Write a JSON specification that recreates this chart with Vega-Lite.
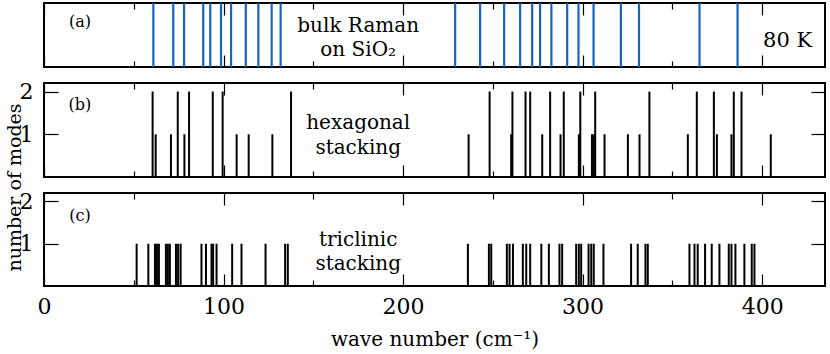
{
  "$schema": "https://vega.github.io/schema/vega-lite/v6.json",
  "background": "white",
  "padding": {"left": 3, "top": 0, "right": 0, "bottom": 0},
  "spacing": 16,
  "bounds": "flush",
  "datasets": {
    "raman": [{"wn":60.9},{"wn":72.0},{"wn":78.0},{"wn":88.7},{"wn":92.6},{"wn":98.6},{"wn":104.2},{"wn":112.4},{"wn":119.4},{"wn":126.8},{"wn":131.8},{"wn":229.0},{"wn":242.9},{"wn":256.3},{"wn":265.2},{"wn":271.9},{"wn":276.3},{"wn":282.6},{"wn":291.4},{"wn":297.7},{"wn":306.1},{"wn":321.3},{"wn":331.4},{"wn":365.1},{"wn":386.3}],
    "hex": [{"wn":60.5,"n":2},{"wn":62.2,"n":1},{"wn":70.7,"n":1},{"wn":74.5,"n":2},{"wn":78.2,"n":1},{"wn":80.8,"n":2},{"wn":94.0,"n":2},{"wn":99.5,"n":2},{"wn":107.3,"n":1},{"wn":114.0,"n":1},{"wn":127.2,"n":1},{"wn":137.6,"n":2},{"wn":236.5,"n":1},{"wn":248.2,"n":2},{"wn":260.2,"n":1},{"wn":260.9,"n":2},{"wn":268.2,"n":2},{"wn":270.8,"n":2},{"wn":277.5,"n":1},{"wn":281.9,"n":2},{"wn":287.7,"n":1},{"wn":289.5,"n":2},{"wn":297.9,"n":1},{"wn":298.7,"n":2},{"wn":305.2,"n":1},{"wn":306.2,"n":1},{"wn":307.0,"n":2},{"wn":312.2,"n":1},{"wn":325.2,"n":1},{"wn":331.7,"n":1},{"wn":337.2,"n":2},{"wn":358.6,"n":1},{"wn":363.6,"n":2},{"wn":373.1,"n":2},{"wn":374.8,"n":1},{"wn":382.9,"n":1},{"wn":384.2,"n":2},{"wn":388.5,"n":2},{"wn":404.8,"n":1}],
    "tri": [{"wn":51.6,"n":1},{"wn":58.1,"n":1},{"wn":61.8,"n":1},{"wn":62.9,"n":1},{"wn":64.0,"n":1},{"wn":67.9,"n":1},{"wn":69.0,"n":1},{"wn":70.1,"n":1},{"wn":73.5,"n":1},{"wn":74.7,"n":1},{"wn":76.1,"n":1},{"wn":87.7,"n":1},{"wn":90.2,"n":1},{"wn":93.3,"n":1},{"wn":94.2,"n":1},{"wn":96.1,"n":1},{"wn":104.8,"n":1},{"wn":110.0,"n":1},{"wn":123.4,"n":1},{"wn":134.3,"n":1},{"wn":135.8,"n":1},{"wn":236.1,"n":1},{"wn":247.8,"n":1},{"wn":249.1,"n":1},{"wn":257.8,"n":1},{"wn":259.3,"n":1},{"wn":261.2,"n":1},{"wn":266.7,"n":1},{"wn":268.6,"n":1},{"wn":270.8,"n":1},{"wn":277.0,"n":1},{"wn":281.2,"n":1},{"wn":287.1,"n":1},{"wn":288.6,"n":1},{"wn":296.4,"n":1},{"wn":297.9,"n":1},{"wn":299.2,"n":1},{"wn":303.3,"n":1},{"wn":304.8,"n":1},{"wn":306.2,"n":1},{"wn":311.6,"n":1},{"wn":327.0,"n":1},{"wn":330.7,"n":1},{"wn":335.0,"n":1},{"wn":336.3,"n":1},{"wn":359.5,"n":1},{"wn":362.3,"n":1},{"wn":364.1,"n":1},{"wn":368.2,"n":1},{"wn":371.9,"n":1},{"wn":376.2,"n":1},{"wn":381.4,"n":1},{"wn":382.9,"n":1},{"wn":385.1,"n":1},{"wn":390.1,"n":1},{"wn":394.2,"n":1},{"wn":395.7,"n":1}]
  },
  "vconcat": [
    {
      "width": 781, "height": 64,
      "resolve": {"axis": {"x": "independent"}},
      "layer": [
        {"data": {"name": "raman"}, "mark": {"type": "rule", "color": "#1763c2", "strokeWidth": 2.2},
         "encoding": {"x": {"field": "wn", "type": "quantitative", "scale": {"domain": [0, 435], "nice": false, "zero": false},
           "axis": {"orient": "bottom", "values": [0,100,200,300,400], "tickSize": -12, "labels": false, "title": null}},
           "y": {"datum": 0, "type": "quantitative", "scale": {"domain": [0, 1], "nice": false}, "axis": null}, "y2": {"datum": 1}}},
        {"data": {"name": "raman"}, "mark": {"type": "rule", "opacity": 0},
         "encoding": {"x": {"field": "wn", "type": "quantitative", "axis": {"orient": "bottom", "values": [50,150,250,350], "tickSize": -6, "labels": false, "title": null}},
           "y": {"datum": 0, "type": "quantitative", "axis": null}, "y2": {"datum": 1}}},
        {"data": {"name": "raman"}, "mark": {"type": "rule", "opacity": 0},
         "encoding": {"x": {"field": "wn", "type": "quantitative", "axis": {"orient": "top", "values": [0,100,200,300,400], "tickSize": -12, "labels": false, "title": null}},
           "y": {"datum": 0, "type": "quantitative", "axis": null}, "y2": {"datum": 1}}},
        {"data": {"name": "raman"}, "mark": {"type": "rule", "opacity": 0},
         "encoding": {"x": {"field": "wn", "type": "quantitative", "axis": {"orient": "top", "values": [50,150,250,350], "tickSize": -6, "labels": false, "title": null}},
           "y": {"datum": 0, "type": "quantitative", "axis": null}, "y2": {"datum": 1}}},
        {"data": {"values": [{"label": "(a)"}]}, "mark": {"type": "text", "fontSize": 16, "align": "center", "baseline": "middle"},
         "encoding": {"x": {"datum": 20, "type": "quantitative", "axis": null}, "y": {"datum": 0.70, "type": "quantitative", "axis": null}, "text": {"field": "label"}}},
        {"data": {"values": [{"label": "bulk Raman\non SiO₂"}]}, "mark": {"type": "text", "fontSize": 20, "align": "center", "baseline": "alphabetic", "lineBreak": "\n", "lineHeight": 24},
         "encoding": {"x": {"datum": 175, "type": "quantitative", "axis": null}, "y": {"datum": 0.54, "type": "quantitative", "axis": null}, "text": {"field": "label"}}},
        {"data": {"values": [{"label": "80 K"}]}, "mark": {"type": "text", "fontSize": 21, "align": "left", "baseline": "alphabetic"},
         "encoding": {"x": {"datum": 400.5, "type": "quantitative", "axis": null}, "y": {"datum": 0.31, "type": "quantitative", "axis": null}, "text": {"field": "label"}}}
      ]
    },
    {
      "width": 781, "height": 94,
      "resolve": {"axis": {"x": "independent", "y": "independent"}},
      "layer": [
        {"data": {"name": "hex"}, "mark": {"type": "rule", "color": "#000", "strokeWidth": 2},
         "encoding": {"x": {"field": "wn", "type": "quantitative", "scale": {"domain": [0, 435], "nice": false, "zero": false},
           "axis": {"orient": "bottom", "values": [0,100,200,300,400], "tickSize": -12, "labels": false, "title": null}},
           "y": {"field": "n", "type": "quantitative", "scale": {"domain": [0, 2.2], "nice": false},
           "axis": {"orient": "left", "values": [1, 2], "tickSize": -14, "labelPadding": 25, "title": null}},
           "y2": {"datum": 0}}},
        {"data": {"name": "hex"}, "mark": {"type": "rule", "opacity": 0},
         "encoding": {"x": {"field": "wn", "type": "quantitative", "axis": {"orient": "bottom", "values": [50,150,250,350], "tickSize": -6, "labels": false, "title": null}},
           "y": {"field": "n", "type": "quantitative", "axis": {"orient": "right", "values": [1, 2], "tickSize": -14, "labels": false, "title": null}}, "y2": {"datum": 0}}},
        {"data": {"name": "hex"}, "mark": {"type": "rule", "opacity": 0},
         "encoding": {"x": {"field": "wn", "type": "quantitative", "axis": {"orient": "top", "values": [0,100,200,300,400], "tickSize": -12, "labels": false, "title": null}},
           "y": {"field": "n", "type": "quantitative", "axis": null}, "y2": {"datum": 0}}},
        {"data": {"name": "hex"}, "mark": {"type": "rule", "opacity": 0},
         "encoding": {"x": {"field": "wn", "type": "quantitative", "axis": {"orient": "top", "values": [50,150,250,350], "tickSize": -6, "labels": false, "title": null}},
           "y": {"field": "n", "type": "quantitative", "axis": null}, "y2": {"datum": 0}}},
        {"data": {"values": [{"label": "(b)"}]}, "mark": {"type": "text", "fontSize": 16, "align": "center", "baseline": "middle"},
         "encoding": {"x": {"datum": 20, "type": "quantitative", "axis": null}, "y": {"datum": 1.685, "type": "quantitative", "axis": null}, "text": {"field": "label"}}},
        {"data": {"values": [{"label": "hexagonal\nstacking"}]}, "mark": {"type": "text", "fontSize": 20, "align": "center", "baseline": "alphabetic", "lineBreak": "\n", "lineHeight": 25},
         "encoding": {"x": {"datum": 175, "type": "quantitative", "axis": null}, "y": {"datum": 1.12, "type": "quantitative", "axis": null}, "text": {"field": "label"}}}
      ]
    },
    {
      "width": 781, "height": 93,
      "resolve": {"axis": {"x": "independent", "y": "independent"}},
      "layer": [
        {"data": {"name": "tri"}, "mark": {"type": "rule", "color": "#000", "strokeWidth": 2},
         "encoding": {"x": {"field": "wn", "type": "quantitative", "scale": {"domain": [0, 435], "nice": false, "zero": false},
           "axis": {"orient": "bottom", "values": [0,100,200,300,400], "tickSize": -12, "labelPadding": 22, "labelFlush": false, "title": "wave number (cm⁻¹)", "titlePadding": 12}},
           "y": {"field": "n", "type": "quantitative", "scale": {"domain": [0, 2.2], "nice": false},
           "axis": {"orient": "left", "values": [1, 2], "tickSize": -14, "labelPadding": 25, "title": "number of modes", "titleFontSize": 19, "titleX": -24, "titleY": -6, "titleBaseline": "alphabetic", "titleAlign": "center"}},
           "y2": {"datum": 0}}},
        {"data": {"name": "tri"}, "mark": {"type": "rule", "opacity": 0},
         "encoding": {"x": {"field": "wn", "type": "quantitative", "axis": {"orient": "bottom", "values": [50,150,250,350], "tickSize": -6, "labels": false, "title": null}},
           "y": {"field": "n", "type": "quantitative", "axis": {"orient": "right", "values": [1, 2], "tickSize": -14, "labels": false, "title": null}}, "y2": {"datum": 0}}},
        {"data": {"name": "tri"}, "mark": {"type": "rule", "opacity": 0},
         "encoding": {"x": {"field": "wn", "type": "quantitative", "axis": {"orient": "top", "values": [0,100,200,300,400], "tickSize": -12, "labels": false, "title": null}},
           "y": {"field": "n", "type": "quantitative", "axis": null}, "y2": {"datum": 0}}},
        {"data": {"name": "tri"}, "mark": {"type": "rule", "opacity": 0},
         "encoding": {"x": {"field": "wn", "type": "quantitative", "axis": {"orient": "top", "values": [50,150,250,350], "tickSize": -6, "labels": false, "title": null}},
           "y": {"field": "n", "type": "quantitative", "axis": null}, "y2": {"datum": 0}}},
        {"data": {"values": [{"label": "(c)"}]}, "mark": {"type": "text", "fontSize": 16, "align": "center", "baseline": "middle"},
         "encoding": {"x": {"datum": 20, "type": "quantitative", "axis": null}, "y": {"datum": 1.656, "type": "quantitative", "axis": null}, "text": {"field": "label"}}},
        {"data": {"values": [{"label": "triclinic\nstacking"}]}, "mark": {"type": "text", "fontSize": 20, "align": "center", "baseline": "alphabetic", "lineBreak": "\n", "lineHeight": 24},
         "encoding": {"x": {"datum": 175, "type": "quantitative", "axis": null}, "y": {"datum": 0.94, "type": "quantitative", "axis": null}, "text": {"field": "label"}}}
      ]
    }
  ],
  "config": {
    "font": "DejaVu Serif",
    "view": {"stroke": "#000", "strokeWidth": 2},
    "axis": {"domain": false, "grid": false, "tickColor": "#000", "tickWidth": 1.2, "labelFont": "DejaVu Serif", "labelFontSize": 22, "labelColor": "#000", "titleFont": "DejaVu Serif", "titleFontSize": 20, "titleFontWeight": "normal", "titleColor": "#000"},
    "text": {"font": "DejaVu Serif", "color": "#000"}
  }
}
